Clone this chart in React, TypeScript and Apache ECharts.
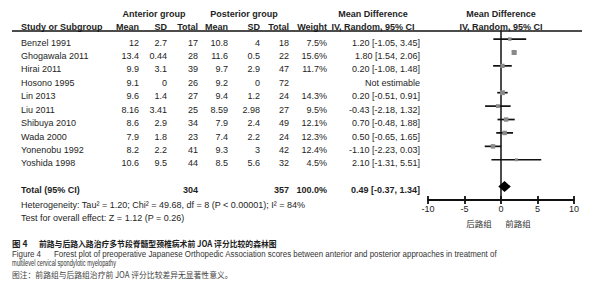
import React, { useEffect, useRef } from "react";
import * as echarts from "echarts";

// ---------- data ----------
const studies = ["Benzel 1991", "Ghogawala 2011", "Hirai 2011", "Hosono 1995", "Lin 2013", "Liu 2011", "Shibuya 2010", "Wada 2000", "Yonenobu 1992", "Yoshida 1998"];
const antMean = [12, 13.4, 9.9, 9.1, 9.6, 8.16, 8.6, 7.9, 8.2, 10.6];
const antSD = [2.7, 0.44, 3.1, 0, 1.4, 3.41, 2.9, 1.8, 2.2, 9.5];
const antN = [17, 28, 39, 26, 27, 25, 34, 23, 41, 44];
const postMean = [10.8, 11.6, 9.7, 9.2, 9.4, 8.59, 7.9, 7.4, 9.3, 8.5];
const postSD = [4, 0.5, 2.9, 0, 1.2, 2.98, 2.4, 2.2, 3, 5.6];
const postN = [18, 22, 47, 72, 24, 27, 49, 24, 42, 32];
const weights: (number | null)[] = [7.5, 15.6, 11.7, null, 14.3, 9.5, 12.1, 12.3, 12.4, 4.5];
const md: (number | null)[] = [1.2, 1.8, 0.2, null, 0.2, -0.43, 0.7, 0.5, -1.1, 2.1];
const ciLow: (number | null)[] = [-1.05, 1.54, -1.08, null, -0.51, -2.18, -0.48, -0.65, -2.23, -1.31];
const ciHigh: (number | null)[] = [3.45, 2.06, 1.48, null, 0.91, 1.32, 1.88, 1.65, 0.03, 5.51];

const totalLabel = "Total (95% CI)";
const totalAnt = 304;
const totalPost = 357;
const totalWeight = 100.0;
const totalMD = 0.49;
const totalLow = -0.37;
const totalHigh = 1.34;
const heterogeneityText = "Heterogeneity: Tau² = 1.20; Chi² = 49.68, df = 8 (P < 0.00001); I² = 84%";
const overallText = "Test for overall effect: Z = 1.12 (P = 0.26)";
const notEstimable = "Not estimable";

const xMin = -10;
const xMax = 10;
const xInterval = 5;
const favourLeft = "后路组";
const favourRight = "前路组";

const captionCNNum = "图 4";
const captionCN = "前路与后路入路治疗多节段脊髓型颈椎病术前 JOA 评分比较的森林图";
const captionENNum = "Figure 4";
const captionEN1 = "Forest plot of preoperative Japanese Orthopedic Association scores between anterior and posterior approaches in treatment of";
const captionEN2 = "multilevel cervical spondylotic myelopathy";
const noteCN = "图注：前路组与后路组治疗前 JOA 评分比较差异无显著性意义。";

// ---------- layout ----------
const W = 599;
const H = 300;
const gridLeft = 428;
const gridRight = 574;
const gridTop = 31;
const gridBottom = 200;
const yMin = -0.6;
const yMax = 12;
const totalRow = 11;
const rowPx = (i: number) => gridTop + ((i - yMin) / (yMax - yMin)) * (gridBottom - gridTop);
const textOff = 3.6;

const FONT = "'Liberation Sans', Arial, sans-serif";
const CJK = "'Noto Sans CJK SC', sans-serif";
const TXT = "#1e1e1e";

function measure(text: string, font: string) {
  const c = document.createElement("canvas").getContext("2d")!;
  c.font = font;
  return c.measureText(text).width;
}

function txt(text: string, x: number, y: number, align: string, opts: any = {}) {
  const size = opts.size ?? 9;
  const weight = opts.bold ? "bold " : "";
  const family = opts.family ?? FONT;
  const font = `${weight}${size}px ${family}`;
  let scaleX = 1;
  if (opts.fitWidth) {
    const w = measure(text, font);
    if (w > 0) scaleX = opts.fitWidth / w;
  }
  return {
    type: "text",
    x,
    y,
    scaleX,
    silent: true,
    style: {
      text,
      font,
      fill: opts.fill ?? TXT,
      align,
      verticalAlign: "middle",
    },
  };
}

function fmt2(v: number) {
  return v.toFixed(2);
}

export default function App() {
  const ref = useRef<HTMLDivElement>(null);

  useEffect(() => {
    if (!ref.current) return;
    const chart = echarts.init(ref.current, undefined, { renderer: "svg" });

    const g: any[] = [];
    // header
    g.push(txt("Anterior group", 154, 14, "center", { bold: true }));
    g.push(txt("Posterior group", 244, 14, "center", { bold: true }));
    g.push(txt("Mean Difference", 373, 14, "center", { bold: true }));
    g.push(txt("Mean Difference", 501, 14, "center", { bold: true }));
    const hy = 27;
    g.push(txt("Study or Subgroup", 21, hy, "left", { bold: true }));
    g.push(txt("Mean", 139, hy, "right", { bold: true }));
    g.push(txt("SD", 167, hy, "right", { bold: true }));
    g.push(txt("Total", 198, hy, "right", { bold: true }));
    g.push(txt("Mean", 228, hy, "right", { bold: true }));
    g.push(txt("SD", 260, hy, "right", { bold: true }));
    g.push(txt("Total", 289, hy, "right", { bold: true }));
    g.push(txt("Weight", 327, hy, "right", { bold: true }));
    g.push(txt("IV, Random, 95% CI", 373, hy, "center", { bold: true }));
    g.push(txt("IV, Random, 95% CI", 501, hy, "center", { bold: true }));
    g.push({
      type: "rect",
      silent: true,
      shape: { x: 12, y: gridTop - 0.75, width: 570, height: 1.5 },
      style: { fill: "#111" },
    });

    // rows
    studies.forEach((s, i) => {
      const y = rowPx(i) + textOff;
      g.push(txt(s, 21, y, "left"));
      g.push(txt(String(antMean[i]), 139, y, "right"));
      g.push(txt(String(antSD[i]), 167, y, "right"));
      g.push(txt(String(antN[i]), 198, y, "right"));
      g.push(txt(String(postMean[i]), 228, y, "right"));
      g.push(txt(String(postSD[i]), 260, y, "right"));
      g.push(txt(String(postN[i]), 289, y, "right"));
      const w = weights[i];
      if (w != null) g.push(txt(w.toFixed(1) + "%", 327, y, "right"));
      const m = md[i];
      if (m != null && ciLow[i] != null && ciHigh[i] != null) {
        g.push(txt(`${fmt2(m)} [${fmt2(ciLow[i] as number)}, ${fmt2(ciHigh[i] as number)}]`, 420, y, "right"));
      } else {
        g.push(txt(notEstimable, 420, y, "right"));
      }
    });

    // total
    const ty = rowPx(totalRow) + textOff;
    g.push(txt(totalLabel, 21, ty, "left", { bold: true }));
    g.push(txt(String(totalAnt), 198, ty, "right", { bold: true }));
    g.push(txt(String(totalPost), 289, ty, "right", { bold: true }));
    g.push(txt(totalWeight.toFixed(1) + "%", 327, ty, "right", { bold: true }));
    g.push(txt(`${fmt2(totalMD)} [${fmt2(totalLow)}, ${fmt2(totalHigh)}]`, 420, ty, "right", { bold: true }));
    g.push(txt(heterogeneityText, 21, 204.5, "left"));
    g.push(txt(overallText, 21, 218, "left"));

    // favours labels
    g.push(txt(favourLeft, 479, 223, "center", { family: CJK, size: 8.5, fill: "#333" }));
    g.push(txt(favourRight, 518, 223, "center", { family: CJK, size: 8.5, fill: "#333" }));

    // captions
    g.push(txt(captionCNNum, 12, 243, "left", { family: CJK, size: 8.5, bold: true }));
    g.push(txt(captionCN, 39, 243, "left", { family: CJK, size: 8.5, bold: true, fitWidth: 238 }));
    g.push(txt(captionENNum, 12, 253.5, "left", { size: 8.8, fill: "#333", fitWidth: 29 }));
    g.push(txt(captionEN1, 54, 253.5, "left", { size: 8.8, fill: "#333", fitWidth: 443 }));
    g.push(txt(captionEN2, 12, 263.5, "left", { size: 8.8, fill: "#333", fitWidth: 104 }));
    g.push(txt(noteCN, 12, 274, "left", { family: CJK, size: 8.5, fill: "#444", fitWidth: 221 }));

    const studyData = studies
      .map((_, i) => (md[i] == null ? null : [md[i], i, ciLow[i], ciHigh[i], weights[i]]))
      .filter((d) => d != null);

    const option: any = {
      animation: false,
      grid: {
        left: gridLeft,
        right: W - gridRight,
        top: gridTop,
        bottom: H - gridBottom,
        containLabel: false,
      },
      xAxis: [
        {
          type: "value",
          min: xMin,
          max: xMax,
          interval: xInterval,
          position: "bottom",
          splitLine: { show: false },
          axisLine: { show: true, onZero: false, lineStyle: { color: "#111", width: 1.8 } },
          axisTick: { show: true, inside: false, length: 4, lineStyle: { color: "#111", width: 1.8 } },
          axisLabel: {
            show: true,
            margin: 4,
            fontSize: 9,
            fontFamily: FONT,
            color: TXT,
          },
        },
        {
          type: "value",
          min: xMin,
          max: xMax,
          interval: xInterval,
          position: "bottom",
          offset: 0,
          splitLine: { show: false },
          axisLine: { show: false, onZero: false },
          axisTick: { show: true, inside: true, length: 4, lineStyle: { color: "#111", width: 1.8 } },
          axisLabel: { show: false },
        },
      ],
      yAxis: {
        type: "value",
        inverse: true,
        min: yMin,
        max: yMax,
        splitLine: { show: false },
        axisTick: { show: false },
        axisLabel: { show: false },
        axisLine: { show: true, onZero: true, lineStyle: { color: "#111", width: 1.5 } },
      },
      graphic: g,
      series: [
        {
          type: "custom",
          xAxisIndex: 0,
          clip: false,
          data: studyData,
          renderItem: (_p: any, api: any) => {
            const m = api.value(0);
            const r = api.value(1);
            const lo = api.value(2);
            const hi = api.value(3);
            const w = api.value(4);
            const pL = api.coord([lo, r]);
            const pH = api.coord([hi, r]);
            const pM = api.coord([m, r]);
            const s = 2 + w * 0.2;
            const lw = 1.7;
            return {
              type: "group",
              children: [
                {
                  type: "rect",
                  shape: { x: pL[0], y: pL[1] - lw / 2, width: pH[0] - pL[0], height: lw },
                  style: { fill: "#111" },
                },
                {
                  type: "rect",
                  shape: { x: pM[0] - s / 2, y: pM[1] - s / 2, width: s, height: s },
                  style: { fill: "#8a8a8a" },
                },
              ],
            };
          },
        },
        {
          type: "custom",
          xAxisIndex: 0,
          clip: false,
          data: [[totalMD, totalRow, totalLow, totalHigh]],
          renderItem: (_p: any, api: any) => {
            const m = api.value(0);
            const r = api.value(1);
            const pL = api.coord([api.value(2), r]);
            const pH = api.coord([api.value(3), r]);
            const pM = api.coord([m, r]);
            const h = 5.5;
            return {
              type: "polygon",
              shape: {
                points: [
                  [pL[0], pM[1]],
                  [pM[0], pM[1] - h],
                  [pH[0], pM[1]],
                  [pM[0], pM[1] + h],
                ],
              },
              style: { fill: "#000" },
            };
          },
        },
      ],
    };

    chart.setOption(option);
    return () => chart.dispose();
  }, []);

  return (
    <div
      ref={ref}
      style={{ position: "fixed", left: 0, top: 0, width: W, height: H, background: "#fff" }}
    />
  );
}
